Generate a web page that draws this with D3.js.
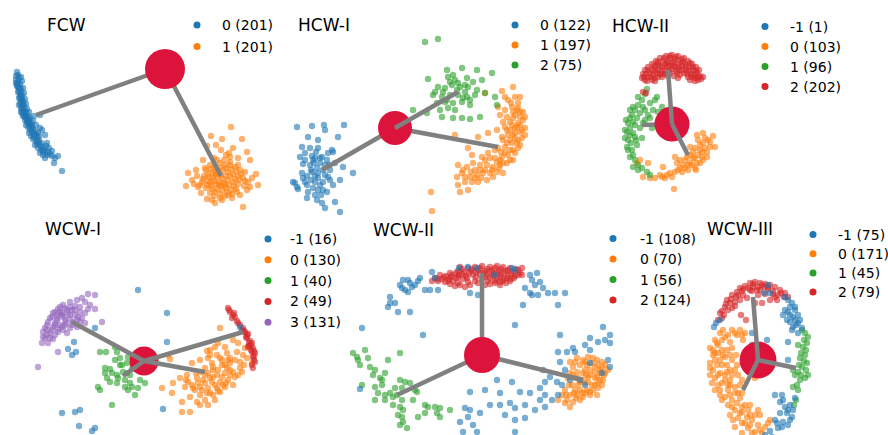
<!DOCTYPE html>
<html>
<head>
<meta charset="utf-8">
<script src="https://cdn.jsdelivr.net/npm/d3@7"></script>
<style>
  body { margin: 0; background: #fff; }
  text { font-family: "DejaVu Sans", sans-serif; fill: #000; }
</style>
</head>
<body>
<div id="chart"></div>
<script>
// ---- FCW ----
const fcwLabels = ["0 (201)", "1 (201)"];
const fcw0 = [[17,72],[16,76],[19,78],[21,77],[16,80],[18,82],[20,84],[22,81],[17,86],[19,88],[21,90],[23,88],[18,92],[20,94],[22,95],[24,93],[19,98],[21,100],[23,101],[25,99],[20,103],[22,105],[24,106],[26,104],[21,108],[23,110],[25,111],[27,109],[29,112],[22,113],[24,115],[26,117],[28,116],[30,118],[34,116],[40,115],[25,120],[27,122],[29,124],[31,123],[33,121],[36,125],[40,128],[28,127],[30,130],[32,132],[35,131],[38,133],[42,130],[45,135],[31,136],[33,139],[36,141],[39,140],[41,143],[47,143],[35,145],[38,148],[41,150],[44,149],[49,148],[52,151],[40,153],[43,155],[47,155],[52,156],[55,158],[45,158],[58,156],[54,163],[62,171],
  [18,75],[17,84],[19,91],[20,97],[22,99],[21,96],[23,104],[22,109],[24,112],[26,113],[23,116],[25,117],[27,119],[29,120],[28,121],[30,125],[32,126],[31,128],[33,129],[34,134],[36,135],[37,137],[34,137],[38,142],[40,145],[42,147],[37,144],[43,151],[45,152],[48,152],[46,146],[50,154],[16,83],[18,87],[20,88],[19,105],[21,112],[26,125],[29,133],[39,136]];
const fcw1 = [[231,127],[211,136],[222,139],[242,139],[207,146],[216,145],[233,148],[247,152],[226,155],[238,158],[203,160],[214,158],[250,160],[196,170],[188,173],[192,180],[186,186],[198,187],[201,193],[207,199],[215,203],[222,200],[243,207],[252,178],[256,174],[258,185],[247,190],[240,195],[232,198],[229,153],[221,150],[205,168],[210,165],[215,167],[220,163],[225,165],[230,162],[235,167],[240,170],[245,172],[208,174],[213,172],[218,171],[223,170],[228,172],[233,174],[238,176],[243,178],[203,179],[208,181],[213,178],[218,177],[223,179],[228,180],[233,182],[238,184],[248,182],[200,185],[206,188],[211,186],[216,184],[221,186],[226,188],[231,190],[236,189],[244,186],[210,193],[215,192],[220,194],[225,196],[212,200],[219,182],[226,176],[217,160],[230,157],
  [206,170],[211,169],[216,173],[221,175],[226,168],[231,169],[236,171],[241,174],[204,176],[209,177],[214,181],[219,185],[224,183],[229,185],[234,186],[239,180],[202,182],[207,185],[212,189],[217,189],[222,190],[227,192],[232,194],[237,192],[220,168],[215,175],[225,185],[230,176],[235,179],[210,183],[214,196],[220,198],[228,195],[245,181],[250,187],[197,176],[194,184],[230,165],[238,165],[224,160]];
const fcwCenter = [165, 69];
const fcwEnds = [[36,115],[221,176]];

// ---- HCW-I ----
const hcw1Labels = ["0 (122)", "1 (197)", "2 (75)"];
const hcw1_0 = [[12,127],[27,126],[39,125],[59,125],[40,130],[23,137],[33,140],[53,137],[17,147],[25,148],[33,148],[47,150],[15,157],[20,153],[27,156],[37,157],[43,153],[48,152],[29,163],[18,164],[40,165],[50,163],[58,167],[68,173],[17,173],[27,172],[33,173],[43,177],[55,180],[10,183],[20,182],[30,182],[38,182],[13,189],[23,192],[33,190],[42,192],[22,198],[32,200],[37,203],[40,208],[50,202],[55,212],[12,187],[8,182],[28,160],[32,168],[35,158],[38,170],[30,176],[25,165],[35,185],[28,188],[45,170],[42,160],[22,176],[48,185],
  [30,158],[35,163],[26,170],[33,178],[40,175],[22,185],[38,190],[30,195],[45,180],[26,180],[18,178],[36,195],[44,165],[20,160],[31,152]];
const hcw1_1 = [[228,87],[217,91],[200,93],[230,97],[223,100],[233,103],[227,107],[213,107],[235,112],[230,115],[222,117],[238,120],[233,123],[227,125],[220,127],[240,128],[235,132],[230,133],[223,135],[240,135],[217,137],[212,130],[203,133],[193,137],[233,140],[227,143],[220,147],[213,148],[233,148],[230,153],[223,155],[217,157],[210,158],[203,153],[197,157],[183,148],[187,155],[228,160],[222,163],[215,165],[208,167],[202,165],[195,165],[188,163],[182,167],[173,165],[218,173],[212,172],[205,173],[198,173],[192,175],[185,177],[177,173],[172,177],[202,180],[193,182],[187,182],[180,182],[173,185],[183,190],[175,192],[146,192],[147,211],[170,135],[240,117],[235,97],[220,97],[225,130],[230,138],[225,150],[218,140],[235,125],[228,118],[215,160],[210,150],[200,160],[190,170],[205,158],
  [232,110],[228,112],[235,117],[232,127],[237,130],[230,128],[225,122],[228,135],[237,138],[232,143],[225,140],[222,130],[235,145],[228,150],[220,153],[225,160],[218,163],[212,162],[207,170],[200,170],[195,170],[190,178],[196,178],[208,177],[214,168],[186,172],[180,177],[178,170],[216,152],[222,143],[238,112],[233,108],[226,103],[220,110],[215,115],[218,122]];
const hcw1_2 = [[140,42],[153,39],[162,70],[177,68],[192,70],[207,73],[143,79],[163,77],[170,80],[182,78],[188,82],[197,80],[153,87],[160,88],[167,85],[175,87],[183,87],[192,90],[148,95],[157,97],[165,95],[173,95],[182,97],[190,95],[200,93],[210,97],[152,103],[160,102],[168,103],[177,102],[185,105],[128,110],[142,113],[157,117],[168,118],[177,118],[185,119],[195,117],[212,105],[150,92],[162,100],[172,90],[180,92],
  [165,82],[173,83],[158,92],[178,98],[163,108],[170,110],[155,110],[185,100],[168,75],[180,85]];
const hcw1Center = [110, 128];
const hcw1Ends = [[37,170],[213,147],[173,92]];

// ---- HCW-II ----
const hcw2Labels = ["-1 (1)", "0 (103)", "1 (96)", "2 (202)"];
const hcw2_n = [[70,125]];
const hcw2_0 = [[43,177],[55,178],[62,177],[67,175],[72,177],[75,172],[82,172],[88,170],[95,168],[100,163],[90,163],[83,165],[77,163],[75,157],[87,157],[95,158],[103,160],[93,152],[100,150],[107,152],[110,147],[115,147],[103,143],[108,140],[98,140],[97,135],[103,133],[113,136],[102,157],[40,160],[48,163],[37,163],[74,189],[63,167],[80,168],[85,160],[90,147],[107,157],
  [92,165],[97,163],[85,168],[78,170],[70,173],[60,175],[50,178],[93,158],[98,155],[105,148],[100,145],[95,148],[105,138],[110,142],[88,165],[80,160],[96,170],[102,152],[90,155],[65,178]];
const hcw2_1 = [[47,89],[38,97],[42,100],[33,107],[43,107],[50,103],[57,97],[62,107],[32,115],[40,113],[48,115],[58,112],[28,123],[35,125],[43,123],[52,128],[27,132],[33,133],[42,138],[28,140],[27,147],[32,150],[30,157],[35,160],[33,167],[38,170],[47,172],[50,175],[37,145],[25,138],[30,128],[37,118],[45,94],[53,110],[26,120],[31,143],
  [30,110],[35,110],[45,110],[38,105],[30,118],[33,122],[40,128],[30,135],[35,137],[25,130],[28,150],[33,155],[38,165],[42,168],[36,140],[45,120],[50,118],[55,100]];
const hcw2_2 = [[72,55],[66,56],[78,56],[60,58],[84,58],[70,58],[75,59],[56,61],[88,61],[63,61],[68,61],[80,61],[52,64],[92,64],[58,64],[65,64],[72,63],[78,64],[85,64],[48,67],[96,67],[55,67],[62,67],[69,66],[75,67],[82,66],[89,67],[45,70],[52,70],[58,70],[65,70],[72,69],[79,70],[86,70],[93,70],[99,70],[43,74],[50,73],[57,73],[63,74],[70,73],[84,73],[91,74],[97,73],[42,78],[48,77],[55,78],[62,77],[88,77],[95,78],[100,76],[103,77],[45,80],[52,80],[78,78],[90,80],[98,80],[68,76],[74,76],[80,75],[43,92],[46,93],
  [64,58],[70,56],[76,57],[82,59],[58,62],[67,63],[74,62],[83,62],[90,63],[54,66],[60,66],[67,67],[73,66],[79,67],[86,67],[93,67],[48,70],[55,71],[62,71],[69,71],[76,71],[82,70],[89,71],[96,71],[46,74],[53,75],[60,74],[66,74],[77,73],[87,74],[94,75],[44,77],[51,77],[58,77],[92,77],[98,77],[47,81],[55,81],[95,81],[101,79]];
const hcw2Center = [72, 124];
const hcw2Ends = [[88,155],[42,125],[68,70]];

// ---- WCW-I ----
const wcw1Labels = ["-1 (16)", "0 (130)", "1 (40)", "2 (49)", "3 (131)"];
const wcw1_n = [[138,75],[167,98],[167,127],[95,113],[74,127],[68,134],[76,137],[72,140],[240,112],[163,194],[62,198],[75,197],[80,195],[79,211],[95,213],[92,216]];
const wcw1_0 = [[162,173],[172,178],[182,197],[190,197],[182,187],[168,140],[170,144],[192,148],[207,136],[220,113],[218,128],[233,125],[208,143],[217,140],[227,138],[237,137],[245,133],[247,143],[240,147],[230,148],[222,150],[213,152],[205,153],[200,157],[208,158],[217,160],[225,158],[233,157],[238,160],[187,160],[180,163],[188,167],[197,163],[203,165],[212,167],[220,167],[228,165],[233,170],[225,172],[217,173],[208,173],[200,172],[193,173],[185,172],[173,168],[200,180],[207,178],[213,180],[220,177],[205,185],[197,187],[190,182],[213,155],[222,145],[230,143],[215,132],[200,145],[252,148],[210,163],[227,153],
  [210,140],[220,143],[228,145],[212,148],[225,150],[235,145],[218,155],[230,155],[205,160],[213,162],[222,162],[230,160],[198,168],[205,168],[215,170],[223,170],[195,175],[202,175],[210,178],[218,176],[226,168],[192,170],[186,165],[196,158],[240,153],[244,150],[210,135],[225,132],[238,128],[243,140],[215,185],[200,190],[208,190],[235,162],[242,157]];
const wcw1_1 = [[100,137],[106,137],[115,132],[117,137],[128,142],[147,140],[105,153],[110,154],[120,150],[127,148],[133,150],[137,154],[107,163],[117,160],[123,157],[132,154],[110,167],[117,168],[125,172],[132,172],[138,173],[145,168],[98,172],[100,175],[128,175],[135,180],[112,190],[137,147],[120,143],[130,160],
  [112,158],[118,163],[125,165],[130,168],[122,150],[115,145],[105,158],[140,165],[127,158]];
const wcw1_2 = [[228,93],[230,97],[233,100],[232,103],[237,106],[240,110],[243,113],[245,117],[248,119],[247,123],[250,126],[252,128],[249,131],[253,133],[252,137],[255,138],[253,142],[255,147],[253,153],[235,102],[242,115],[247,120],[248,132],[251,135],[254,141],
  [229,95],[234,98],[238,108],[244,116],[246,122],[249,128],[251,130],[254,136],[254,145],[252,150]];
const wcw1_3 = [[88,79],[95,80],[82,83],[77,85],[70,87],[85,87],[63,90],[75,91],[88,94],[95,94],[58,94],[67,95],[80,97],[53,98],[62,100],[70,100],[78,102],[102,107],[50,103],[57,105],[65,105],[73,107],[85,108],[47,110],[53,112],[62,112],[70,113],[43,117],[50,118],[58,117],[67,118],[45,123],[53,124],[42,128],[48,128],[58,137],[38,152],[60,97],[72,95],[57,100],[65,110],[77,112],[82,103],[47,115],[55,108],
  [60,92],[65,93],[70,92],[75,95],[80,92],[55,97],[62,98],[68,98],[75,100],[52,102],[58,103],[64,102],[70,104],[77,105],[48,107],[55,110],[60,110],[66,108],[72,110],[45,113],[52,115],[58,114],[63,115],[47,120],[55,120],[43,122],[50,123],[90,90],[85,98],[80,107]];
const wcw1Center = [144, 146];
const wcw1Ends = [[205,157],[123,161],[243,117],[72,107]];

// ---- WCW-II ----
const wcw2Labels = ["-1 (108)", "0 (70)", "1 (56)", "2 (124)"];
const wcw2_n = [[60,70],[63,65],[68,65],[70,68],[72,72],[75,70],[78,66],[80,63],[65,75],[62,73],[68,77],[50,82],[50,88],[48,92],[55,88],[58,97],[85,75],[90,75],[98,75],[70,97],[95,63],[92,57],[119,53],[128,52],[137,53],[155,60],[172,53],[175,55],[130,78],[138,80],[190,60],[197,58],[192,65],[200,67],[195,70],[203,73],[190,78],[185,73],[215,78],[225,78],[208,78],[198,80],[218,90],[183,90],[192,80],[263,112],[270,120],[250,123],[258,127],[265,125],[270,128],[245,130],[250,135],[233,133],[227,137],[235,137],[218,137],[220,147],[268,145],[270,152],[210,162],[205,167],[217,167],[222,170],[230,165],[240,165],[203,155],[225,155],[245,170],[262,158],[250,148],[175,110],[220,120],[157,165],[172,167],[180,177],[200,173],[190,178],[130,177],[150,190],[160,190],[170,188],[175,193],[185,190],[200,185],[205,192],[195,195],[165,200],[175,205],[185,203],[205,180],[212,185],[218,180],[125,193],[128,202],[133,210],[137,217],[140,198],[120,207],[130,195],[123,217],[175,217],[145,175],[160,178],[22,113],[20,174],[83,120]];
const wcw2_0 = [[230,147],[237,143],[243,145],[248,142],[253,143],[257,145],[262,147],[233,152],[240,150],[247,150],[252,148],[258,150],[265,150],[268,155],[230,158],[237,157],[243,158],[250,155],[255,157],[260,158],[264,160],[228,163],[235,163],[242,165],[248,162],[255,163],[260,165],[232,170],[238,170],[245,168],[252,170],[258,168],[262,170],[225,175],[235,175],[240,175],[247,175],[253,175],[258,173],[222,180],[230,180],[237,180],[243,182],[250,180],[218,185],[227,185],[233,187],[240,185],[230,192],[257,180],[263,165],[245,178],[238,163],[250,160],
  [235,147],[245,147],[255,152],[262,153],[233,160],[246,160],[257,162],[240,167],[248,167],[234,178],[242,178],[250,177],[255,170],[226,180],[236,183],[229,170],[260,155],[265,158],[245,155],[225,188]];
const wcw2_1 = [[13,138],[17,142],[18,145],[25,135],[28,143],[20,150],[30,152],[35,155],[33,160],[45,158],[60,138],[48,145],[40,163],[42,170],[35,172],[38,178],[45,180],[50,178],[53,182],[45,185],[60,165],[65,167],[62,173],[70,168],[75,175],[77,177],[55,173],[57,180],[62,185],[53,190],[60,192],[58,200],[62,202],[63,207],[67,213],[78,202],[85,198],[95,192],[97,198],[100,193],[110,195],[88,192],[100,202],[60,210],[22,170],[35,185],[63,195],[73,185],[85,190],[42,165]];
const wcw2_2 = [[120,52],[128,53],[135,52],[142,51],[150,52],[157,51],[163,52],[170,53],[176,54],[182,53],[118,56],[124,57],[131,56],[138,55],[145,56],[152,55],[159,56],[166,56],[173,57],[180,58],[100,60],[106,61],[112,60],[119,60],[126,61],[133,60],[140,59],[147,60],[154,59],[161,60],[168,61],[175,61],[95,63],[102,64],[109,64],[116,63],[123,64],[150,63],[157,64],[164,64],[171,64],[92,66],[98,66],[105,67],[118,68],[160,67],[182,60],[115,71],[120,70],[125,72],[130,70],[150,69],[155,68],[160,70],[163,66],[170,66],[135,66],[142,64],
  [122,54],[132,54],[140,53],[147,54],[155,53],[161,54],[168,55],[178,55],[110,58],[116,58],[122,59],[129,58],[136,57],[143,58],[150,57],[157,58],[164,58],[171,59],[178,60],[104,62],[111,62],[118,62],[127,63],[136,62],[145,62],[153,61],[160,62],[167,63],[174,63],[98,64],[108,66],[113,66],[128,67],[138,68],[148,66],[155,66],[166,68],[110,69],[145,70]];
const wcw2Center = [142, 140];
const wcw2Ends = [[243,165],[57,180],[142,58]];

// ---- WCW-III ----
const wcw3Labels = ["-1 (75)", "0 (171)", "1 (45)", "2 (79)"];
const wcw3_n = [[105,82],[108,85],[112,88],[110,92],[115,95],[108,97],[118,100],[113,102],[120,105],[110,107],[116,110],[122,113],[118,118],[115,92],[103,100],[107,105],[112,115],[72,118],[87,125],[108,127],[108,145],[72,130],[36,108],[40,105],[34,112],[95,180],[102,180],[100,187],[105,192],[110,190],[113,195],[107,198],[100,198],[112,202],[95,205],[103,207],[108,210],[98,213],[90,216],[115,183],[92,222],[85,220],[88,70],[84,78],[90,78],
  [110,100],[115,105],[118,108],[113,112],[105,95],[103,185],[108,195],[110,205],[97,208],[102,212]];
const wcw3_0 = [[60,115],[65,118],[63,125],[57,120],[40,118],[35,125],[45,122],[50,127],[38,130],[30,133],[42,135],[52,133],[33,140],[45,142],[40,145],[30,148],[37,150],[47,150],[52,145],[33,155],[40,158],[45,160],[35,163],[50,165],[42,168],[55,172],[38,170],[48,175],[58,178],[45,182],[52,185],[60,183],[65,190],[48,190],[55,195],[62,197],[70,200],[58,203],[65,208],[72,205],[78,210],[68,213],[75,217],[82,218],[85,212],[55,212],[62,218],[78,195],[90,205],[70,190],[40,175],[30,160],[55,155],[62,165],[58,160],[43,115],[68,195],[80,200],[50,200],[60,170],[47,135],[35,138],[75,150],[70,155],[75,163],[65,148],[52,115],
  [62,120],[55,118],[48,120],[42,125],[37,128],[33,135],[38,138],[43,140],[50,140],[56,140],[35,145],[42,150],[50,155],[57,150],[30,153],[38,160],[47,157],[52,160],[32,168],[45,165],[50,170],[40,180],[50,180],[55,178],[62,178],[42,185],[57,188],[62,192],[52,192],[60,198],[67,202],[75,200],[62,208],[70,210],[80,215],[72,218],[88,208],[53,205],[48,170],[35,175]];
const wcw3_1 = [[122,115],[125,118],[128,122],[124,125],[127,128],[123,132],[126,135],[121,138],[125,140],[120,143],[124,146],[119,150],[122,152],[126,155],[118,157],[121,160],[125,163],[115,160],[120,165],[117,170],[113,172],[118,175],[127,148],[128,160],[113,155],[118,130],[116,185],[114,190]];
const wcw3_2 = [[70,68],[75,67],[80,68],[85,69],[90,70],[65,71],[60,73],[95,72],[100,75],[105,78],[57,77],[62,76],[68,73],[73,72],[78,72],[84,72],[88,74],[93,76],[52,80],[56,82],[63,80],[72,76],[80,75],[98,80],[104,82],[108,82],[47,85],[50,88],[55,87],[60,85],[45,92],[48,95],[52,93],[40,98],[44,100],[38,105],[42,103],[61,100],[66,105],[75,88],[82,88],[90,85],[97,85],[67,83],[78,80],[85,79],
  [73,69],[82,70],[88,72],[63,74],[70,75],[77,75],[93,79],[58,80],[51,84],[46,89],[42,96],[101,78],[95,82],[55,91]];
const wcw3Center = [78, 145];
const wcw3Ends = [[63,175],[116,153],[73,82]];

// layout of the six panels (pixels)
const panels = [
  { title: "FCW", ox: 0, oy: 0, w: 285, h: 215, labels: fcwLabels, noise: null, clusters: [fcw0, fcw1],
    center: fcwCenter, ends: fcwEnds, over: [], r: 20, tx: 47, ty: 31, lx: 197, ly: 25, ls: 21.5, txtx: 222 },
  { title: "HCW-I", ox: 285, oy: 0, w: 315, h: 215, labels: hcw1Labels, noise: null, clusters: [hcw1_0, hcw1_1, hcw1_2],
    center: hcw1Center, ends: hcw1Ends, over: [2], r: 17, tx: 13, ty: 31, lx: 230, ly: 25, ls: 20, txtx: 255 },
  { title: "HCW-II", ox: 600, oy: 0, w: 288, h: 215, labels: hcw2Labels, noise: hcw2_n, clusters: [hcw2_0, hcw2_1, hcw2_2],
    center: hcw2Center, ends: hcw2Ends, over: [0, 2], r: 17.5, tx: 12, ty: 32, lx: 165, ly: 26.5, ls: 20, txtx: 190 },
  { title: "WCW-I", ox: 0, oy: 215, w: 340, h: 220, labels: wcw1Labels, noise: wcw1_n, clusters: [wcw1_0, wcw1_1, wcw1_2, wcw1_3],
    center: wcw1Center, ends: wcw1Ends, over: [0, 1, 2, 3], r: 14.5, tx: 45, ty: 20, lx: 268, ly: 24, ls: 20.8, txtx: 290 },
  { title: "WCW-II", ox: 340, oy: 215, w: 340, h: 220, labels: wcw2Labels, noise: wcw2_n, clusters: [wcw2_0, wcw2_1, wcw2_2],
    center: wcw2Center, ends: wcw2Ends, over: [], r: 18, tx: 33, ty: 21, lx: 273, ly: 23.5, ls: 20.5, txtx: 300 },
  { title: "WCW-III", ox: 680, oy: 215, w: 208, h: 220, labels: wcw3Labels, noise: wcw3_n, clusters: [wcw3_0, wcw3_1, wcw3_2],
    center: wcw3Center, ends: wcw3Ends, over: [0, 1, 2], r: 18.5, tx: 27, ty: 20, lx: 133, ly: 19.5, ls: 19.2, txtx: 158 }
];

const colors = d3.schemeCategory10;
const W = 888, H = 435;

const svg = d3.select("#chart").append("svg")
  .attr("width", W)
  .attr("height", H);

panels.forEach(p => {
  const x = d3.scaleLinear().domain([0, p.w]).range([p.ox, p.ox + p.w]);
  const y = d3.scaleLinear().domain([0, p.h]).range([p.oy, p.oy + p.h]);
  const g = svg.append("g").attr("class", "panel");

  // colour index: noise (-1) takes the first colour when present
  const shift = p.noise ? 1 : 0;
  const layers = p.clusters.map((pts, i) => ({ pts, c: colors[i + shift] }));
  if (p.noise) layers.push({ pts: p.noise, c: colors[0] });

  layers.forEach(l => {
    g.append("g").selectAll("circle")
      .data(l.pts)
      .enter()
      .append("circle")
      .attr("cx", d => x(d[0]))
      .attr("cy", d => y(d[1]))
      .attr("r", 3.2)
      .attr("fill", l.c)
      .attr("fill-opacity", 0.6);
  });

  const edge = (sel, idx) => sel.selectAll("line")
    .data(idx.map(i => p.ends[i]))
    .enter()
    .append("line")
    .attr("x1", x(p.center[0])).attr("y1", y(p.center[1]))
    .attr("x2", d => x(d[0])).attr("y2", d => y(d[1]))
    .attr("stroke", "#808080")
    .attr("stroke-width", 4.5);

  const under = p.ends.map((d, i) => i).filter(i => !p.over.includes(i));
  edge(g.append("g"), under);

  g.append("circle")
    .attr("cx", x(p.center[0]))
    .attr("cy", y(p.center[1]))
    .attr("r", p.r)
    .attr("fill", "crimson");

  edge(g.append("g"), p.over);

  // title
  g.append("text")
    .attr("x", x(p.tx))
    .attr("y", y(p.ty))
    .style("font-size", "17px")
    .text(p.title);

  // legend
  const leg = g.append("g");
  p.labels.forEach((lab, i) => {
    leg.append("circle")
      .attr("cx", x(p.lx))
      .attr("cy", y(p.ly + i * p.ls))
      .attr("r", 3.5)
      .attr("fill", colors[i]);
    leg.append("text")
      .attr("x", x(p.txtx))
      .attr("y", y(p.ly + i * p.ls) + 5)
      .style("font-size", "14px")
      .text(lab);
  });
});
</script>
</body>
</html>
